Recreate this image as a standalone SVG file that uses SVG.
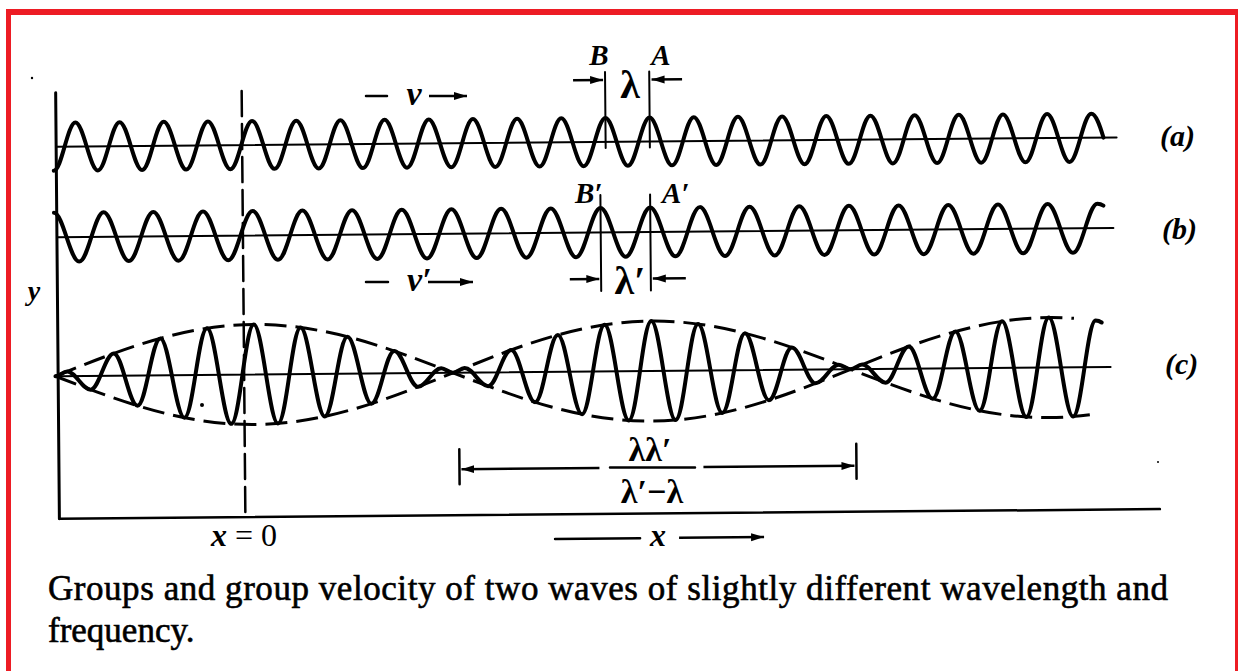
<svg xmlns="http://www.w3.org/2000/svg" width="1239" height="671" viewBox="0 0 1239 671">
<defs>
<style>
.ln{stroke:#000;fill:none;stroke-linecap:round;stroke-linejoin:round}
.wave{stroke:#000;fill:none;stroke-width:4;stroke-linecap:round;stroke-linejoin:round}
.env{stroke:#000;fill:none;stroke-width:3;stroke-dasharray:22 9}
.ar{stroke:#000;fill:none;stroke-width:2.5;marker-end:url(#ah)}
.lab{font-family:"Liberation Serif","Times New Roman",serif;font-style:italic;font-weight:bold;fill:#000}
.gr{font-family:"Liberation Serif","DejaVu Serif",serif;font-weight:bold;fill:#000}
.cap{font-family:"Liberation Serif","Times New Roman",serif;font-size:35px;fill:#000;stroke:#000;stroke-width:0.6}
.bd{stroke:#ED1C24;fill:none}
</style>
<marker id="ah" markerWidth="14" markerHeight="10" refX="13" refY="4.5" orient="auto" markerUnits="userSpaceOnUse">
<path d="M0,0.5 L13,4.5 L0,8.5 z" fill="#000"/>
</marker>
</defs>
<rect width="1239" height="671" fill="#fff"/>
<g id="border">
<line class="bd" x1="8.5" y1="12" x2="8.5" y2="680" stroke-width="5"/>
<line class="bd" x1="6" y1="12" x2="1238" y2="12" stroke-width="6"/>
<line class="bd" x1="1236.5" y1="12" x2="1236.5" y2="680" stroke-width="3"/>
</g>
<g id="plot" transform="rotate(-0.5 600 300)">
<g id="axes">
<path class="ln" stroke-width="3" d="M57.5,88 V514"/>
<path class="ln" stroke-width="2.5" d="M57.5,514 H1158"/>
<path class="ln" stroke-width="2" d="M57.5,142 H1118"/>
<path class="ln" stroke-width="2" d="M57.5,232.5 H1114"/>
<path class="ln" stroke-width="2" d="M57.5,371.5 H1110"/>
<path class="ln" stroke-width="2.5" stroke-dasharray="25 8" d="M243.5,88 V514"/>
</g>
<g id="wave-a">
<path class="wave" d="M54.9,166 c8.03,0 14.06,-48 22.085,-48 s14.06,48 22.085,48 s14.06,-48 22.085,-48 s14.06,48 22.085,48 s14.06,-48 22.085,-48 s14.06,48 22.085,48 s14.06,-48 22.085,-48 s14.06,48 22.085,48 s14.06,-48 22.085,-48 s14.06,48 22.085,48 s14.06,-48 22.085,-48 s14.06,48 22.085,48 s14.06,-48 22.085,-48 s14.06,48 22.085,48 s14.06,-48 22.085,-48 s14.06,48 22.085,48 s14.06,-48 22.085,-48 s14.06,48 22.085,48 s14.06,-48 22.085,-48 s14.06,48 22.085,48 s14.06,-48 22.085,-48 s14.06,48 22.085,48 s14.06,-48 22.085,-48 s14.06,48 22.085,48 s14.06,-48 22.085,-48 s14.06,48 22.085,48 s14.06,-48 22.085,-48 s14.06,48 22.085,48 s14.06,-48 22.085,-48 s14.06,48 22.085,48 s14.06,-48 22.085,-48 s14.06,48 22.085,48 s14.06,-48 22.085,-48 s14.06,48 22.085,48 s14.06,-48 22.085,-48 s14.06,48 22.085,48 s14.06,-48 22.085,-48 s14.06,48 22.085,48 s14.06,-48 22.085,-48 s14.06,48 22.085,48 s14.06,-48 22.085,-48 s14.06,48 22.085,48 s14.06,-48 22.085,-48 s14.06,48 22.085,48 s14.06,-48 22.085,-48 s14.06,48 22.085,48 s14.06,-48 22.085,-48 c5,0 9,14 12,24"/>
</g>
<g id="wave-b">
<path class="wave" d="M54.7,208 c9.03,0 15.82,49 24.845,49 s15.82,-49 24.845,-49 s15.82,49 24.845,49 s15.82,-49 24.845,-49 s15.82,49 24.845,49 s15.82,-49 24.845,-49 s15.82,49 24.845,49 s15.82,-49 24.845,-49 s15.82,49 24.845,49 s15.82,-49 24.845,-49 s15.82,49 24.845,49 s15.82,-49 24.845,-49 s15.82,49 24.845,49 s15.82,-49 24.845,-49 s15.82,49 24.845,49 s15.82,-49 24.845,-49 s15.82,49 24.845,49 s15.82,-49 24.845,-49 s15.82,49 24.845,49 s15.82,-49 24.845,-49 s15.82,49 24.845,49 s15.82,-49 24.845,-49 s15.82,49 24.845,49 s15.82,-49 24.845,-49 s15.82,49 24.845,49 s15.82,-49 24.845,-49 s15.82,49 24.845,49 s15.82,-49 24.845,-49 s15.82,49 24.845,49 s15.82,-49 24.845,-49 s15.82,49 24.845,49 s15.82,-49 24.845,-49 s15.82,49 24.845,49 s15.82,-49 24.845,-49 s15.82,49 24.845,49 s15.82,-49 24.845,-49 s15.82,49 24.845,49 s15.82,-49 24.845,-49 s15.82,49 24.845,49 s15.82,-49 24.845,-49 s15.82,49 24.845,49 s15.82,-49 24.845,-49 c2,0 4,0.6 6,2"/>
</g>
<g id="wave-c">
<path class="wave" stroke-width="3.6" d="M54.8,371.5 c4.25,0 7.44,-4.61 11.69,-4.61 c8.5,0 14.885,18.29 23.385,18.29 c8.5,0 14.885,-35.97 23.385,-35.97 c8.5,0 14.885,52.42 23.385,52.42 c8.5,0 14.885,-67.08 23.385,-67.08 c8.5,0 14.885,79.46 23.385,79.46 c8.5,0 14.885,-89.13 23.385,-89.13 c8.5,0 14.885,95.77 23.385,95.77 c8.5,0 14.885,-99.15 23.385,-99.15 c8.5,0 14.885,99.15 23.385,99.15 c8.5,0 14.885,-95.77 23.385,-95.77 c8.5,0 14.885,89.13 23.385,89.13 c8.5,0 14.885,-79.46 23.385,-79.46 c8.5,0 14.885,67.08 23.385,67.08 c8.5,0 14.885,-52.42 23.385,-52.42 c8.5,0 14.885,35.97 23.385,35.97 c8.5,0 14.885,-18.29 23.385,-18.29 c4.25,0 7.44,4.61 11.69,4.61 c4.25,0 7.44,-4.61 11.69,-4.61 c8.5,0 14.885,18.29 23.385,18.29 c8.5,0 14.885,-35.97 23.385,-35.97 c8.5,0 14.885,52.42 23.385,52.42 c8.5,0 14.885,-67.08 23.385,-67.08 c8.5,0 14.885,79.46 23.385,79.46 c8.5,0 14.885,-89.13 23.385,-89.13 c8.5,0 14.885,95.77 23.385,95.77 c8.5,0 14.885,-99.15 23.385,-99.15 c8.5,0 14.885,99.15 23.385,99.15 c8.5,0 14.885,-95.77 23.385,-95.77 c8.5,0 14.885,89.13 23.385,89.13 c8.5,0 14.885,-79.46 23.385,-79.46 c8.5,0 14.885,67.08 23.385,67.08 c8.5,0 14.885,-52.42 23.385,-52.42 c8.5,0 14.885,35.97 23.385,35.97 c8.5,0 14.885,-18.29 23.385,-18.29 c4.25,0 7.44,4.61 11.69,4.61 c4.25,0 7.44,-4.61 11.69,-4.61 c8.5,0 14.885,18.29 23.385,18.29 c8.5,0 14.885,-35.97 23.385,-35.97 c8.5,0 14.885,52.42 23.385,52.42 c8.5,0 14.885,-67.08 23.385,-67.08 c8.5,0 14.885,79.46 23.385,79.46 c8.5,0 14.885,-89.13 23.385,-89.13 c8.5,0 14.885,95.77 23.385,95.77 c8.5,0 14.885,-99.15 23.385,-99.15 c8.5,0 14.885,99.15 23.385,99.15 c8.5,0 14.885,-95.77 23.385,-95.77 c2,0 4,0.6 6,2"/>
<path class="env" d="M54.8,371.5 c64.83,-25.61 126.85,-50 198.8,-50 s133.97,24.39 198.8,50 c64.83,-25.61 126.85,-50 198.8,-50 s133.97,24.39 198.8,50 c64.83,-25.61 126.85,-50 198.8,-50 c9,0 17,0.4 25,1"/>
<path class="env" d="M54.8,371.5 c64.83,25.61 126.85,50 198.8,50 s133.97,-24.39 198.8,-50 c64.83,25.61 126.85,50 198.8,50 s133.97,-24.39 198.8,-50 c64.83,25.61 126.85,50 198.8,50 c13,0 27,-1 40,-2.5"/>
</g>
<g id="annotations">
<path class="ln" stroke-width="2" d="M607,72 V148 M651.2,72 V148"/>
<path class="ar" d="M575,80 H605"/>
<path class="ar" d="M684,80 H653.5"/>
<path class="ln" stroke-width="2" d="M601.3,195 V291 M651,195 V291"/>
<path class="ar" d="M570,279 H599.5"/>
<path class="ar" d="M686,279 H653"/>
<path class="ln" stroke-width="2.5" d="M458,448 V483 M855,446 V481"/>
<path class="ar" d="M598,468 H460"/>
<path class="ar" d="M702,468 H853"/>
<path class="ln" stroke-width="2.5" d="M553,538.5 H638"/>
<path class="ar" d="M677,538.5 H762"/>
</g>
</g>
<g id="labels">
<path class="ln" stroke-width="2.5" d="M366,96 H387 M366,282 H388 M610,467.5 H695"/>
<path class="ar" d="M429,96 H467"/>
<path class="ar" d="M428,282 H473"/>
<text class="lab" x="599" y="65" font-size="29" text-anchor="middle">B</text>
<text class="lab" x="661" y="65" font-size="29" text-anchor="middle">A</text>
<text class="gr" x="630" y="98" font-size="40" text-anchor="middle">λ</text>
<text class="lab" x="575" y="203" font-size="29">B′</text>
<text class="lab" x="662" y="203" font-size="29">A′</text>
<text class="gr" x="630" y="294" font-size="40" text-anchor="middle">λ′</text>
<text class="lab" x="414" y="105" font-size="34" text-anchor="middle">v</text>
<text class="lab" x="407" y="291" font-size="34">v′</text>
<text class="lab" x="34" y="300" font-size="28" text-anchor="middle">y</text>
<text class="lab" x="211" y="546" font-size="32">x <tspan font-style="normal" font-weight="normal">= 0</tspan></text>
<text class="lab" x="1160" y="146" font-size="30">(a)</text>
<text class="lab" x="1162" y="239" font-size="30">(b)</text>
<text class="lab" x="1165" y="374" font-size="30">(c)</text>
<text class="gr" x="650" y="461" font-size="34" text-anchor="middle">λλ′</text>
<text class="gr" x="652" y="503" font-size="34" text-anchor="middle">λ′−λ</text>
<text class="lab" x="658" y="546" font-size="32" text-anchor="middle">x</text>
<circle cx="32" cy="78" r="1.2" fill="#000"/>
<circle cx="202" cy="405" r="2" fill="#000"/>
<circle cx="1158" cy="462" r="1" fill="#000"/>
</g>
<g id="caption">
<text class="cap" x="48" y="600" textLength="1120" lengthAdjust="spacing">Groups and group velocity of two waves of slightly different wavelength and</text>
<text class="cap" x="48" y="642">frequency.</text>
</g>
</svg>
